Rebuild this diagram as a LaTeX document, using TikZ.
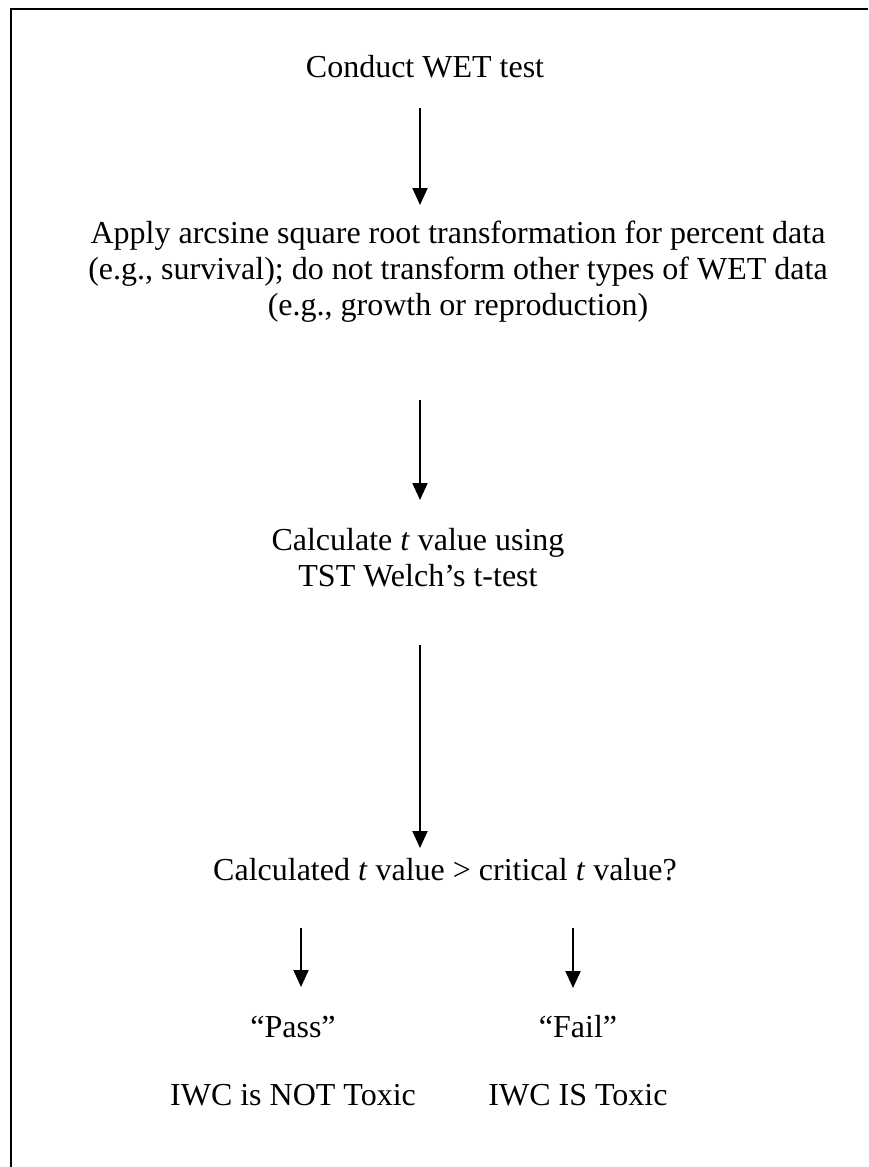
\documentclass[tikz,border=0pt]{standalone}
\usepackage{fontspec}
\setmainfont{Liberation Serif}
\usetikzlibrary{arrows.meta}
\begin{document}
\begin{tikzpicture}[x=1pt,y=-1pt,
  txt/.style={font=\fontsize{32}{36}\selectfont, inner sep=0pt, anchor=base},
  flow/.style={line width=2pt, -{Triangle[width=15pt,length=17pt]}},
  frame/.style={line width=2pt}]
\useasboundingbox (0,0) rectangle (868,1167);
\draw[frame] (11,1167) -- (11,9) -- (868,9);
\node[txt] (conduct) at (425,77) {Conduct WET test};
\node[txt] (apply) at (458,243) {\begin{tabular}[t]{@{}c@{}}Apply arcsine square root transformation for percent data\\(e.g., survival); do not transform other types of WET data\\(e.g., growth or reproduction)\end{tabular}};
\node[txt] (calc) at (418,550) {\begin{tabular}[t]{@{}c@{}}Calculate \textit{t} value using\\TST Welch’s t-test\end{tabular}};
\node[txt] (cmp) at (445,880) {Calculated \textit{t} value > critical \textit{t} value?};
\node[txt] (pass) at (293,1037) {“Pass”};
\node[txt] (fail) at (578,1037) {“Fail”};
\node[txt] (nottox) at (293,1105) {IWC is NOT Toxic};
\node[txt] (istox) at (578,1105) {IWC IS Toxic};
\coordinate (a1s) at (420,108);
\coordinate (a1e) at (420,205);
\coordinate (a2s) at (420,400);
\coordinate (a2e) at (420,500);
\coordinate (a3s) at (420,645);
\coordinate (a3e) at (420,848);
\coordinate (a4s) at (301,928);
\coordinate (a4e) at (301,987);
\coordinate (a5s) at (573,928);
\coordinate (a5e) at (573,988);
\draw[flow] (a1s) -- (a1e);
\draw[flow] (a2s) -- (a2e);
\draw[flow] (a3s) -- (a3e);
\draw[flow] (a4s) -- (a4e);
\draw[flow] (a5s) -- (a5e);
\end{tikzpicture}
\end{document}
